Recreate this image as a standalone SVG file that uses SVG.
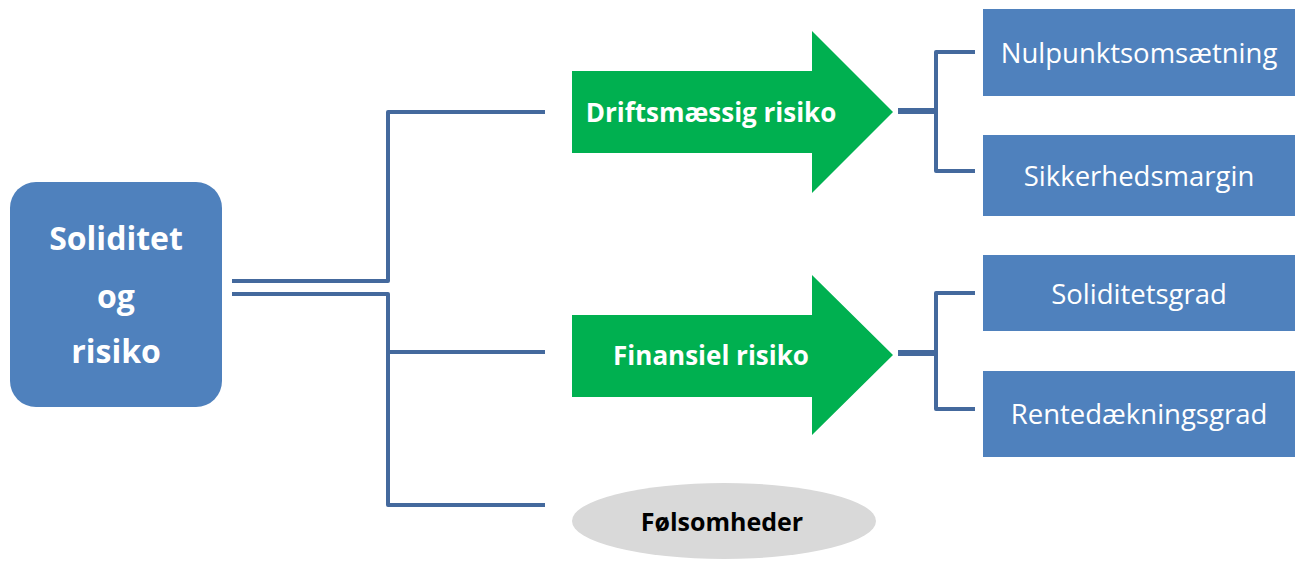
<svg xmlns="http://www.w3.org/2000/svg" width="1295" height="563" viewBox="0 0 1295 563">
<style>
.conn{fill:none;stroke:#44699d;stroke-width:4;stroke-linejoin:round}
.stem{fill:none;stroke:#44699d;stroke-width:6}
.box{fill:#4f81bd}
.arrow{fill:#00b050}
.wt{fill:#fff;font-family:"Open Sans","Liberation Sans",sans-serif;text-anchor:middle;dominant-baseline:central}
.bt{font-weight:bold}
</style>
<rect width="1295" height="563" fill="#fff"/>
<g id="connectors">
<path class="conn" d="M232,281 H388 V112 H545"/>
<path class="conn" d="M232,294 H388 V505 H545 M388,352 H545"/>
<path class="stem" d="M898,111 H936"/>
<path class="conn" d="M975,52 H936 V171 H975"/>
<path class="stem" d="M898,353 H936"/>
<path class="conn" d="M975,293 H936 V409 H975"/>
</g>
<g id="root">
<rect class="box" x="10" y="182" width="212" height="225" rx="26"/>
<text class="wt bt" x="116" y="237" font-size="32">Soliditet</text>
<text class="wt bt" x="116" y="295" font-size="32">og</text>
<text class="wt bt" x="116" y="350" font-size="32">risiko</text>
</g>
<g id="drift">
<polygon class="arrow" points="572,71 812,71 812,31 893,112 812,193 812,153 572,153"/>
<text class="wt bt" x="711" y="112" font-size="26">Driftsmæssig risiko</text>
</g>
<g id="finans">
<polygon class="arrow" points="572,315 812,315 812,275 893,355 812,435 812,397 572,397"/>
<text class="wt bt" x="711" y="355" font-size="26">Finansiel risiko</text>
</g>
<g id="folsom">
<ellipse cx="724" cy="521" rx="152" ry="38" fill="#d9d9d9"/>
<text class="wt bt" x="722" y="521" font-size="25" style="fill:#000">Følsomheder</text>
</g>
<g id="nulpunkt">
<rect class="box" x="983" y="9" width="312" height="87"/>
<text class="wt" x="1139" y="52" font-size="27.5">Nulpunktsomsætning</text>
</g>
<g id="sikkerhed">
<rect class="box" x="983" y="135" width="312" height="81"/>
<text class="wt" x="1139" y="175" font-size="27.5">Sikkerhedsmargin</text>
</g>
<g id="soliditetsgrad">
<rect class="box" x="983" y="255" width="312" height="76"/>
<text class="wt" x="1139" y="293" font-size="27.5">Soliditetsgrad</text>
</g>
<g id="rente">
<rect class="box" x="983" y="371" width="312" height="86"/>
<text class="wt" x="1139" y="413" font-size="27.5">Rentedækningsgrad</text>
</g>
</svg>
